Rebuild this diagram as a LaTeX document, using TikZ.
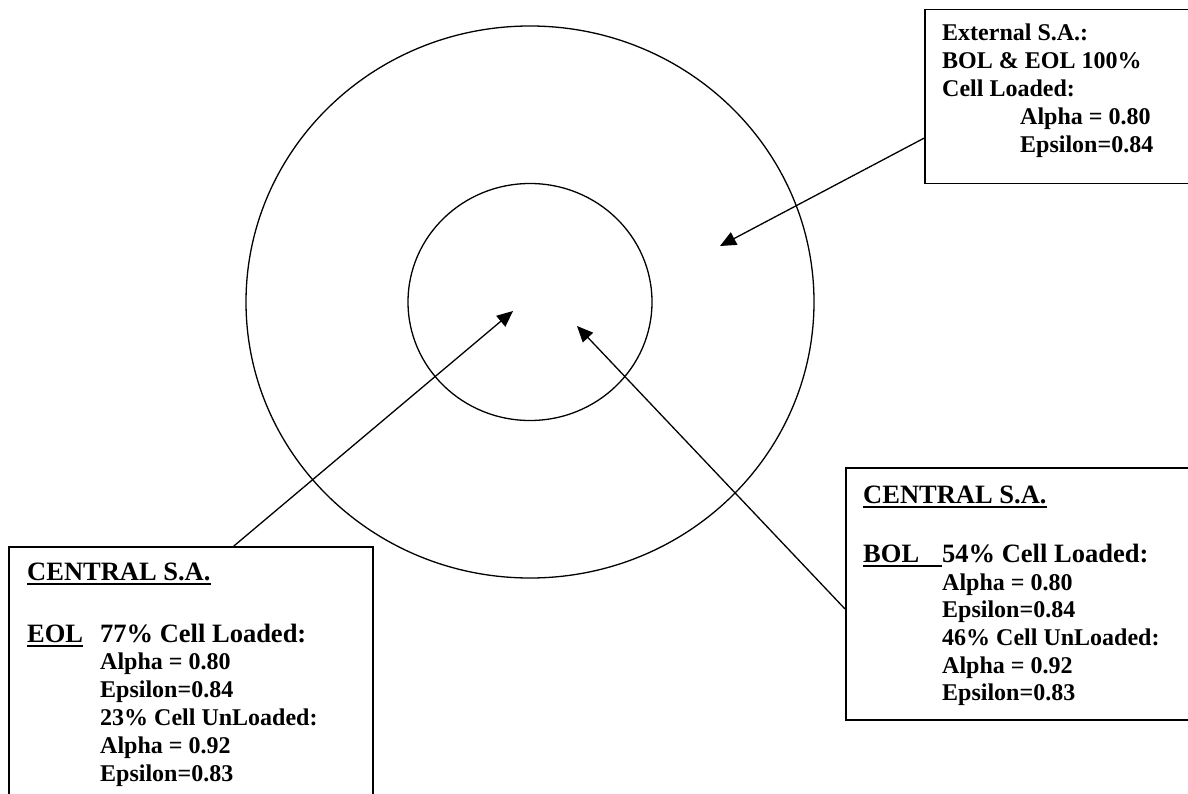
\documentclass[tikz,border=0pt]{standalone}
\usepackage{fontspec}
\setmainfont{Liberation Serif}
\usetikzlibrary{shapes.geometric,arrows.meta,calc}
\newcommand\ulbox[1]{\setbox0\hbox{#1}\rlap{\rule[-5pt]{\wd0}{1.8pt}}\box0}
\begin{document}
\begin{tikzpicture}[x=1pt,y=-1pt,
  ring/.style={draw, ellipse, line width=1.3pt, inner sep=0pt},
  panel/.style={draw, rectangle, line width=1.5pt, anchor=north west, inner sep=0pt},
  txt/.style={anchor=base west, inner sep=0pt, font=\fontsize{24}{28}\selectfont\bfseries},
  head/.style={anchor=base west, inner sep=0pt, font=\fontsize{26.5}{30}\selectfont\bfseries},
  pointer/.style={line width=1.3pt, -{Triangle[length=16pt,width=14pt]}}]
\useasboundingbox (0,0) rectangle (1188,794);
\clip (0,0) rectangle (1188,794);

% rings
\node[ring, minimum width=568pt, minimum height=552pt] (outer) at (530,302) {};
\node[ring, minimum width=244pt, minimum height=237pt] (inner) at (530,302) {};

% panels
\node[panel, minimum width=320pt, minimum height=174pt] (ext) at (924,9) {};
\node[panel, minimum width=364pt, minimum height=270pt] (eol) at (8,546) {};
\node[panel, minimum width=360pt, minimum height=252pt] (bol) at (845,467) {};

% external panel text
\node[txt] (e1) at (942,41) {External S.A.:};
\node[txt] (e2) at (942,69) {BOL \& EOL 100\%};
\node[txt] (e3) at (942,97) {Cell Loaded:};
\node[txt] (e4) at (1020,125) {Alpha = 0.80};
\node[txt] (e5) at (1020,153) {Epsilon=0.84};

% EOL panel text
\node[head] (l1) at (27,580) {\ulbox{CENTRAL S.A.}};
\node[head] (l2) at (27,642) {\ulbox{EOL}};
\node[head] (l3) at (100,642) {77\% Cell Loaded:};
\node[txt] (l4) at (100,669) {Alpha = 0.80};
\node[txt] (l5) at (100,697) {Epsilon=0.84};
\node[txt] (l6) at (100,725) {23\% Cell UnLoaded:};
\node[txt] (l7) at (100,753) {Alpha = 0.92};
\node[txt] (l8) at (100,781) {Epsilon=0.83};

% BOL panel text
\node[head] (r1) at (863,503) {\ulbox{CENTRAL S.A.}};
\node[head] (r2) at (863,562) {\ulbox{\makebox[79pt][l]{BOL}}};
\node[head] (r3) at (942,562) {54\% Cell Loaded:};
\node[txt] (r4) at (942,590) {Alpha = 0.80};
\node[txt] (r5) at (942,617) {Epsilon=0.84};
\node[txt] (r6) at (942,645) {46\% Cell UnLoaded:};
\node[txt] (r7) at (942,673) {Alpha = 0.92};
\node[txt] (r8) at (942,700) {Epsilon=0.83};

% arrow tips
\coordinate (t1) at (720,246);
\coordinate (t2) at (513,311);
\coordinate (t3) at (577,326);

% connectors
\draw[pointer] ($(ext.north west)!0.736!(ext.south west)$) -- (t1);
\draw[pointer] ($(eol.north west)!0.618!(eol.north east)$) -- (t2);
\draw[pointer] ($(bol.north west)!0.56!(bol.south west)$) -- (t3);
\end{tikzpicture}
\end{document}
